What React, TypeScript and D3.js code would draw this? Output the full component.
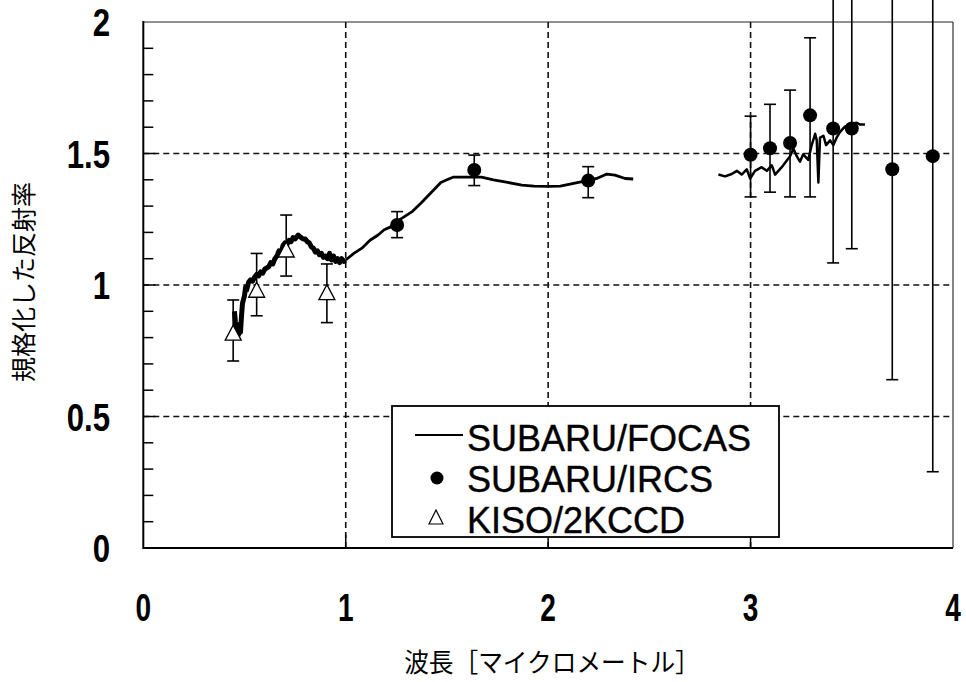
import React, { useEffect, useRef } from 'react';
import * as d3 from 'd3';

// FOCAS spectrum, visible part (noisy), near-IR part, and L-band part
const focasX1 = [0.45, 0.455, 0.46, 0.465, 0.47, 0.475, 0.48, 0.485, 0.49, 0.50, 0.505, 0.51, 0.52, 0.53, 0.54, 0.55, 0.56, 0.57, 0.58, 0.59, 0.60, 0.61, 0.62, 0.63, 0.64, 0.65, 0.66, 0.67, 0.68, 0.69, 0.70, 0.71, 0.72, 0.73, 0.74, 0.75, 0.765, 0.78, 0.79, 0.80, 0.81, 0.82, 0.83, 0.84, 0.85, 0.86, 0.87, 0.88, 0.89, 0.90, 0.91, 0.92, 0.93, 0.94, 0.95, 0.96, 0.97, 0.98, 0.99, 1.00];
const focasY1 = [0.90, 0.86, 0.83, 0.85, 0.81, 0.84, 0.82, 0.88, 0.93, 0.96, 0.99, 0.98, 1.01, 1.02, 1.015, 1.03, 1.04, 1.035, 1.05, 1.045, 1.06, 1.065, 1.07, 1.085, 1.08, 1.10, 1.11, 1.13, 1.12, 1.15, 1.16, 1.155, 1.17, 1.165, 1.18, 1.175, 1.19, 1.18, 1.175, 1.175, 1.165, 1.16, 1.145, 1.14, 1.125, 1.13, 1.115, 1.12, 1.105, 1.11, 1.10, 1.12, 1.095, 1.11, 1.09, 1.10, 1.085, 1.10, 1.09, 1.095];
const focasX2 = [1.00, 1.04, 1.08, 1.12, 1.16, 1.19, 1.22, 1.25, 1.29, 1.33, 1.37, 1.42, 1.47, 1.50, 1.53, 1.57, 1.62, 1.67, 1.73, 1.80, 1.87, 1.93, 2.00, 2.06, 2.12, 2.18, 2.24, 2.29, 2.33, 2.38, 2.42];
const focasY2 = [1.095, 1.12, 1.14, 1.17, 1.19, 1.21, 1.22, 1.24, 1.26, 1.28, 1.31, 1.35, 1.39, 1.40, 1.41, 1.41, 1.41, 1.41, 1.40, 1.39, 1.38, 1.376, 1.375, 1.376, 1.385, 1.395, 1.405, 1.422, 1.418, 1.405, 1.403];
const focasX3 = [2.841, 2.874, 2.907, 2.932, 2.956, 2.981, 2.998, 3.022, 3.055, 3.080, 3.105, 3.121, 3.154, 3.195, 3.212, 3.228, 3.244, 3.26, 3.285, 3.302, 3.319, 3.327, 3.335, 3.343, 3.36, 3.373, 3.393, 3.409, 3.425, 3.442, 3.467, 3.491, 3.524, 3.541, 3.565];
const focasY3 = [1.42, 1.413, 1.422, 1.434, 1.42, 1.44, 1.405, 1.434, 1.448, 1.434, 1.455, 1.42, 1.448, 1.49, 1.518, 1.49, 1.469, 1.497, 1.476, 1.532, 1.575, 1.55, 1.39, 1.56, 1.567, 1.532, 1.55, 1.532, 1.56, 1.582, 1.603, 1.61, 1.617, 1.61, 1.61];

// SUBARU/IRCS points with error bars
const ircsX = [1.254, 1.635, 2.198, 3.0, 3.096, 3.195, 3.294, 3.408, 3.5, 3.7, 3.9];
const ircsY = [1.228, 1.437, 1.397, 1.495, 1.52, 1.54, 1.645, 1.595, 1.595, 1.44, 1.49];
const ircsLo = [1.18, 1.378, 1.332, 1.335, 1.353, 1.335, 1.335, 1.084, 1.138, 0.64, 0.29];
const ircsHi = [1.279, 1.494, 1.45, 1.642, 1.687, 1.741, 1.94, 2.4, 2.4, 2.4, 2.4];

// KISO/2KCCD points with error bars
const kisoX = [0.444, 0.56, 0.706, 0.907];
const kisoY = [0.817, 0.98, 1.133, 0.971];
const kisoLo = [0.711, 0.883, 1.034, 0.857];
const kisoHi = [0.943, 1.12, 1.266, 1.08];

const xTicks = [0, 1, 2, 3, 4];
const yTickLabels = ['0', '0.5', '1', '1.5', '2'];
const yTicks = [0, 0.5, 1, 1.5, 2];
const legendLabels = ['SUBARU/FOCAS', 'SUBARU/IRCS', 'KISO/2KCCD'];

const W = 966;
const H = 682;

const App = () => {
  const ref = useRef<SVGSVGElement | null>(null);

  useEffect(() => {
    if (!ref.current) return;
    const svg = d3.select(ref.current);
    svg.selectAll('*').remove();

    const x = d3.scaleLinear().domain([0, 4]).range([143.3, 953]);
    const y = d3.scaleLinear().domain([0, 2]).range([548, 22]);

    const tickFont = "'Liberation Sans', Arial, sans-serif";
    const jpFont = "'Noto Sans CJK JP', sans-serif";

    svg.append('rect').attr('width', W).attr('height', H).attr('fill', '#fff');

    // dashed grid
    const grid = svg.append('g').attr('stroke', '#111').attr('stroke-width', 1.6).attr('stroke-dasharray', '6,4');
    [1, 2, 3].forEach(v => {
      grid.append('line').attr('x1', x(v)).attr('x2', x(v)).attr('y1', y(2)).attr('y2', y(0));
    });
    [0.5, 1, 1.5].forEach(v => {
      grid.append('line').attr('x1', x(0)).attr('x2', x(4)).attr('y1', y(v)).attr('y2', y(v));
    });

    // frame
    svg.append('line').attr('x1', x(0)).attr('x2', x(4)).attr('y1', y(2)).attr('y2', y(2)).attr('stroke', '#222').attr('stroke-width', 1.2);
    svg.append('line').attr('x1', x(4)).attr('x2', x(4)).attr('y1', y(2)).attr('y2', y(0)).attr('stroke', '#333').attr('stroke-width', 1.2);
    svg.append('line').attr('x1', x(0)).attr('x2', x(0)).attr('y1', y(2) - 1).attr('y2', y(0) + 1).attr('stroke', '#000').attr('stroke-width', 2);
    svg.append('line').attr('x1', x(0)).attr('x2', x(4)).attr('y1', y(0)).attr('y2', y(0)).attr('stroke', '#000').attr('stroke-width', 2);

    // y ticks (inward), minor every 0.1
    d3.range(1, 20).forEach(i => {
      const v = i / 10;
      svg.append('line').attr('x1', x(0)).attr('x2', x(0) + (i % 5 === 0 ? 12 : 10))
        .attr('y1', y(v)).attr('y2', y(v)).attr('stroke', '#000').attr('stroke-width', 1.5);
    });
    // x ticks (inward)
    [1, 2, 3].forEach(v => {
      svg.append('line').attr('x1', x(v)).attr('x2', x(v)).attr('y1', y(0)).attr('y2', y(0) - 13)
        .attr('stroke', '#000').attr('stroke-width', 1.5);
    });

    // tick labels
    yTicks.forEach((v, i) => {
      svg.append('text').attr('transform', `translate(110, ${y(v) + 14}) scale(0.8, 1)`)
        .attr('text-anchor', 'end').attr('font-family', tickFont).attr('font-weight', 'bold')
        .attr('font-size', 39).attr('fill', '#000').text(yTickLabels[i]);
    });
    xTicks.forEach(v => {
      svg.append('text').attr('transform', `translate(${x(v)}, ${621}) scale(0.72, 1)`)
        .attr('text-anchor', 'middle').attr('font-family', tickFont).attr('font-weight', 'bold')
        .attr('font-size', 39).attr('fill', '#000').text(String(v));
    });

    // axis titles
    svg.append('text').attr('transform', `translate(33, 282) rotate(-90)`)
      .attr('text-anchor', 'middle').attr('font-family', jpFont).attr('font-size', 25).attr('fill', '#000')
      .text('規格化した反射率');
    svg.append('text').attr('transform', `translate(552, 672) scale(0.95, 1)`)
      .attr('text-anchor', 'middle').attr('font-family', jpFont).attr('font-size', 26).attr('fill', '#000')
      .text('波長［マイクロメートル］');

    // FOCAS spectrum
    const line = d3.line<[number, number]>().x(d => x(d[0])).y(d => y(d[1]));
    const seg1 = focasX1.map((v, i) => [v, focasY1[i]] as [number, number]);
    const seg2 = focasX2.map((v, i) => [v, focasY2[i]] as [number, number]);
    const seg3 = focasX3.map((v, i) => [v, focasY3[i]] as [number, number]);
    svg.append('path').attr('d', line(seg1)).attr('fill', 'none').attr('stroke', '#000').attr('stroke-width', 5).attr('stroke-linejoin', 'round');
    svg.append('path').attr('d', line(seg2)).attr('fill', 'none').attr('stroke', '#000').attr('stroke-width', 2.8).attr('stroke-linejoin', 'round');
    svg.append('path').attr('d', line(seg3)).attr('fill', 'none').attr('stroke', '#000').attr('stroke-width', 2.5).attr('stroke-linejoin', 'round');

    // error bars
    const errBar = (g: any, cx: number, lo: number, hi: number) => {
      g.append('line').attr('x1', cx).attr('x2', cx).attr('y1', y(lo)).attr('y2', y(hi)).attr('stroke', '#000').attr('stroke-width', 1.6);
      g.append('line').attr('x1', cx - 6).attr('x2', cx + 6).attr('y1', y(lo)).attr('y2', y(lo)).attr('stroke', '#000').attr('stroke-width', 1.6);
      if (hi < 2.05) g.append('line').attr('x1', cx - 6).attr('x2', cx + 6).attr('y1', y(hi)).attr('y2', y(hi)).attr('stroke', '#000').attr('stroke-width', 1.6);
    };

    const kiso = svg.append('g');
    kisoX.forEach((v, i) => {
      errBar(kiso, x(v), kisoLo[i], kisoHi[i]);
      const cx = x(v), cy = y(kisoY[i]);
      kiso.append('path').attr('d', `M${cx},${cy - 8}L${cx + 8},${cy + 7}L${cx - 8},${cy + 7}Z`)
        .attr('fill', '#fff').attr('stroke', '#000').attr('stroke-width', 1.3);
    });

    const ircs = svg.append('g');
    ircsX.forEach((v, i) => {
      errBar(ircs, x(v), ircsLo[i], ircsHi[i]);
      ircs.append('circle').attr('cx', x(v)).attr('cy', y(ircsY[i])).attr('r', 7).attr('fill', '#000');
    });

    // legend
    const lg = svg.append('g');
    lg.append('rect').attr('x', 392).attr('y', 406).attr('width', 387).attr('height', 131)
      .attr('fill', '#fff').attr('stroke', '#000').attr('stroke-width', 1.8);
    lg.append('line').attr('x1', 415).attr('x2', 463).attr('y1', 435).attr('y2', 435).attr('stroke', '#000').attr('stroke-width', 2);
    lg.append('circle').attr('cx', 437).attr('cy', 478).attr('r', 6.5).attr('fill', '#000');
    lg.append('path').attr('d', 'M436,510L443,524L429,524Z').attr('fill', '#fff').attr('stroke', '#000').attr('stroke-width', 1.2);
    legendLabels.forEach((t, i) => {
      lg.append('text').attr('x', 467).attr('y', 451 + i * 41).attr('font-family', tickFont)
        .attr('font-size', 36).attr('fill', '#000').attr('stroke', '#000').attr('stroke-width', 0.4).text(t);
    });
  }, []);

  return (
    <svg ref={ref} width={W} height={H} style={{ position: 'absolute', left: 0, top: 0 }}></svg>
  );
};

export default App;
